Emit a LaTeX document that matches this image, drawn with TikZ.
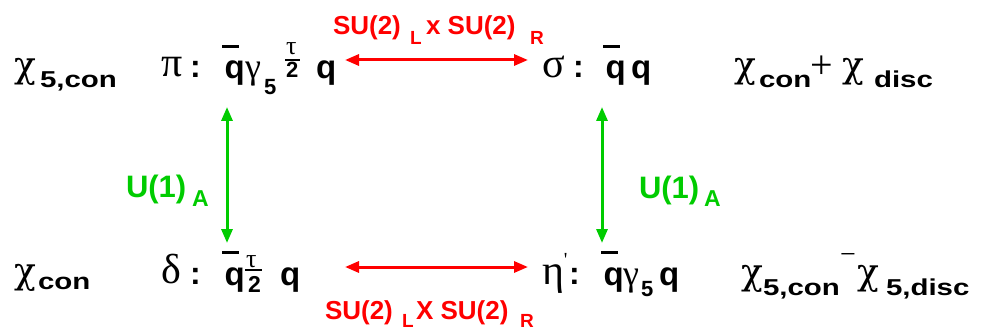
\documentclass[tikz,border=0pt]{standalone}
\usepackage{fontspec}
\usepackage{graphicx}
\setmainfont{Liberation Sans}
\newfontfamily\gk{Liberation Serif}
\newfontfamily\gkc{DejaVu Serif}
\usetikzlibrary{arrows.meta}
\definecolor{sred}{RGB}{255,0,0}
\definecolor{sgreen}{RGB}{0,204,0}
\newcommand{\myfs}[1]{\fontsize{#1}{#1}\selectfont}
\newcommand{\hsc}[2]{\scalebox{#1}[1]{#2}}
\newcommand{\qbx}{\rlap{\raisebox{0.93em}{\rule{0.5em}{0.09em}}}\kern0.08em q}
\tikzset{
  txt/.style={anchor=base west, inner sep=0pt, outer sep=0pt, font=\bfseries},
  grk/.style={anchor=base west, inner sep=0pt, outer sep=0pt, font=\gk},
  chi/.style={anchor=base west, inner sep=0pt, outer sep=0pt, font=\gkc\myfs{36}},
  redarr/.style={draw=sred, line width=3pt, {Triangle[length=14pt,width=11pt]}-{Triangle[length=14pt,width=11pt]}},
  grnarr/.style={draw=sgreen, line width=3pt, {Triangle[length=14pt,width=11pt]}-{Triangle[length=14pt,width=11pt]}},
  redlbl/.style={txt, text=sred},
  grnlbl/.style={txt, text=sgreen}
}
\begin{document}
\begin{tikzpicture}[x=1pt,y=-1pt]
\fill[white] (0,0) rectangle (987,331);
\useasboundingbox (0,0) rectangle (987,331);
% ---- top row ----
\node[chi] (chiA) at (14,78) {χ};
\node[txt] (subA) at (40,88) {\hsc{1.28}{\myfs{23}5,con}};
\node[grk] (pi) at (161,77) {\myfs{42}π};
\node[txt] (colA) at (190,78) {\myfs{32}:};
\node[txt] (qbA) at (222,79) {\myfs{33}\qbx};
\node[grk] (gamA) at (245,79) {\myfs{36}γ};
\node[txt] (g5A) at (264,95) {\myfs{22}5};
\node[grk] (tauA) at (286,55) {\myfs{26}τ};
\fill (285,59.3) rectangle (300,60.7);
\node[txt] (twoA) at (286,78) {\myfs{22}2};
\node[txt] (qA) at (316,79) {\myfs{33}q};
\node[grk] (sig) at (542,78) {\myfs{42}σ};
\node[txt] (colB) at (573,78) {\myfs{32}:};
\node[txt] (qbB) at (603,79) {\myfs{33}\qbx};
\node[txt] (qB) at (631,79) {\myfs{33}q};
\node[chi] (chiB) at (734,78) {χ};
\node[txt] (subB) at (759,88) {\hsc{1.28}{\myfs{23}con}};
\node[grk] (plus) at (810,79) {\myfs{40}+};
\node[chi] (chiC) at (842,78) {χ};
\node[txt] (subC) at (874,88) {\hsc{1.28}{\myfs{23}disc}};
% ---- bottom row ----
\node[chi] (chiD) at (14,283) {χ};
\node[txt] (subD) at (38,289) {\hsc{1.28}{\myfs{23}con}};
\node[grk] (delta) at (161,283) {\myfs{42}δ};
\node[txt] (colD) at (190,284) {\myfs{32}:};
\node[txt] (qbD) at (222,285) {\myfs{33}\qbx};
\node[grk] (tauD) at (246,267) {\myfs{26}τ};
\fill (245,269.3) rectangle (262,270.7);
\node[txt] (twoD) at (248,292) {\myfs{23}2};
\node[txt] (qD) at (280,285) {\myfs{33}q};
\node[grk] (eta) at (542,284) {\myfs{42}η\raisebox{0.42em}{\myfs{20}'}};
\node[txt] (colE) at (569,284) {\myfs{32}:};
\node[txt] (qbE) at (601,285) {\myfs{33}\qbx};
\node[grk] (gamE) at (623,285) {\myfs{36}γ};
\node[txt] (g5E) at (641,296) {\myfs{22}5};
\node[txt] (qE) at (659,285) {\myfs{33}q};
\node[chi] (chiF) at (741,284) {χ};
\node[txt] (subF) at (763,295) {\hsc{1.28}{\myfs{23}5,con}};
\node[grk] (minus) at (840,263) {\myfs{28}−};
\node[chi] (chiG) at (857,284) {χ};
\node[txt] (subG) at (886,295) {\hsc{1.28}{\myfs{23}5,disc}};
% ---- red labels ----
\node[redlbl] (suA1) at (333,35) {\myfs{26}SU(2)};
\node[redlbl] (LA) at (410,45) {\myfs{19}L};
\node[redlbl] (suA2) at (426,35) {\myfs{26}x SU(2)};
\node[redlbl] (RA) at (530,45) {\myfs{19}R};
\node[redlbl] (suB1) at (325,319) {\myfs{26}SU(2)};
\node[redlbl] (LB) at (402,327) {\myfs{19}L};
\node[redlbl] (suB2) at (416,319) {\myfs{26}X SU(2)};
\node[redlbl] (RB) at (520,327) {\myfs{19}R};
% ---- green labels ----
\node[grnlbl] (uA) at (126,197) {\myfs{31}U(1)};
\node[grnlbl] (aA) at (192,207) {\myfs{23}A};
\node[grnlbl] (uB) at (639,198) {\myfs{31}U(1)};
\node[grnlbl] (aB) at (704,207) {\myfs{23}A};
% ---- arrows ----
\coordinate (r1a) at (345,60);
\coordinate (r1b) at (528,60);
\coordinate (r2a) at (345,267);
\coordinate (r2b) at (528,267);
\coordinate (g1a) at (227,107);
\coordinate (g1b) at (227,243);
\coordinate (g2a) at (602,107);
\coordinate (g2b) at (602,243);
\draw[redarr] (r1a) -- (r1b);
\draw[redarr] (r2a) -- (r2b);
\draw[grnarr] (g1a) -- (g1b);
\draw[grnarr] (g2a) -- (g2b);
\end{tikzpicture}
\end{document}
